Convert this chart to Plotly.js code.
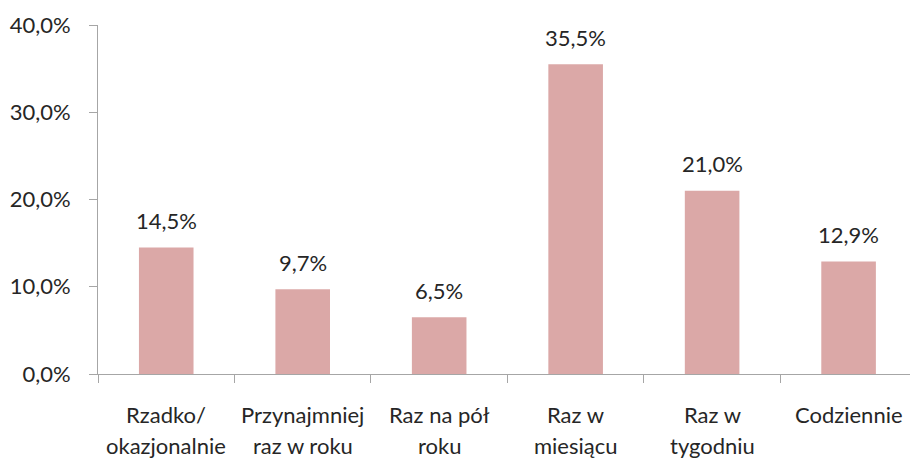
<!DOCTYPE html>
<html>
<head>
<meta charset="utf-8">
<script src="https://cdn.plot.ly/plotly-3.0.1.min.js"></script>
<style>html,body{margin:0;padding:0;background:#fff;}#chart{width:910px;height:459px;}</style>
</head>
<body>
<div id="chart"></div>
<script>
const categories = ["Rzadko/ okazjonalnie", "Przynajmniej raz w roku", "Raz na pół roku", "Raz w miesiącu", "Raz w tygodniu", "Codziennie"];
const labelLine1 = ["Rzadko/", "Przynajmniej", "Raz na pół", "Raz w", "Raz w", "Codziennie"];
const labelLine2 = ["okazjonalnie", "raz w roku", "roku", "miesiącu", "tygodniu", ""];
const values = [14.5, 9.7, 6.5, 35.5, 21.0, 12.9];
const yTicks = [0, 10, 20, 30, 40];

const FONT = "Lato, 'Open Sans', sans-serif";
const TXT = "#262626";
const fmt = v => v.toFixed(1).replace(".", ",") + "%";

const annotations = [];
categories.forEach((c, i) => {
  annotations.push({x: c, y: values[i], xref: "x", yref: "y", text: fmt(values[i]),
    showarrow: false, yanchor: "middle", yshift: 27, font: {family: FONT, size: 22, color: TXT}});
  annotations.push({x: c, y: 0, xref: "x", yref: "paper", text: labelLine1[i],
    showarrow: false, yanchor: "middle", yshift: -40, font: {family: FONT, size: 22, color: TXT}});
  if (labelLine2[i]) annotations.push({x: c, y: 0, xref: "x", yref: "paper", text: labelLine2[i],
    showarrow: false, yanchor: "middle", yshift: -71, font: {family: FONT, size: 22, color: TXT}});
});

const data = [{
  type: "bar",
  x: categories,
  y: values,
  width: 0.4,
  marker: {color: "#DBA8A7", line: {width: 0}},
  hoverinfo: "none"
}];

const layout = {
  width: 910, height: 459,
  margin: {l: 98, r: 0, t: 25, b: 85, pad: 0},
  paper_bgcolor: "#fff", plot_bgcolor: "#fff",
  showlegend: false,
  separators: ", ",
  xaxis: {
    type: "category",
    range: [-0.5, 5.45],
    showticklabels: false,
    tickson: "boundaries",
    ticks: "outside", ticklen: 8, tickwidth: 1, tickcolor: "#A6A6A6",
    showline: true, linecolor: "#A6A6A6", linewidth: 1,
    showgrid: false, zeroline: false, fixedrange: true
  },
  yaxis: {
    range: [0, 40],
    tickvals: yTicks,
    ticktext: yTicks.map(fmt),
    ticks: "outside", ticklen: 8, tickwidth: 1, tickcolor: "#A6A6A6",
    ticklabelstandoff: 14,
    showline: true, linecolor: "#A6A6A6", linewidth: 1,
    showgrid: false, zeroline: false,
    tickfont: {family: FONT, size: 22, color: TXT},
    fixedrange: true
  },
  annotations: annotations
};

Plotly.newPlot("chart", data, layout, {displayModeBar: false, staticPlot: true});
</script>
</body>
</html>
